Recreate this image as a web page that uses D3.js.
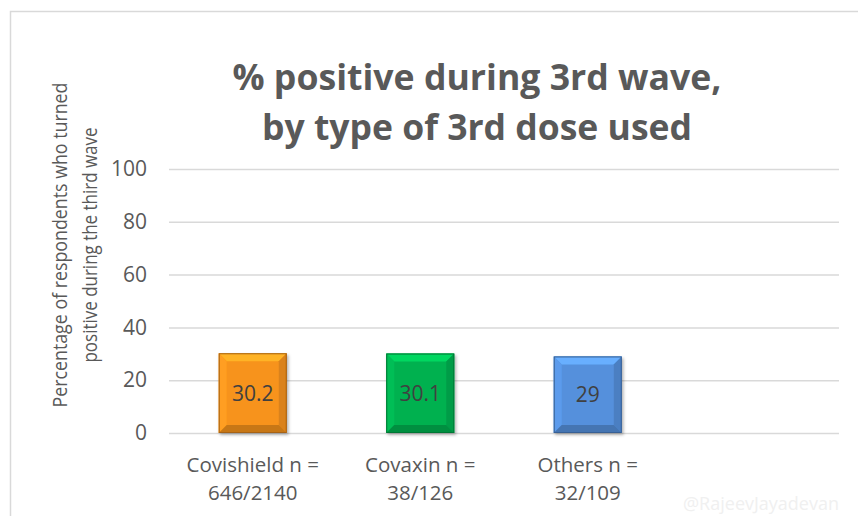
<!DOCTYPE html>
<html>
<head>
<meta charset="utf-8">
<script src="https://cdn.jsdelivr.net/npm/d3@7"></script>
<style>
  body { margin: 0; background: #fff; }
  svg { display: block; font-family: "Open Sans", sans-serif; }
</style>
</head>
<body>
<svg id="chart" width="858" height="516"></svg>
<script>
///////////////////////////////////////////////////////////
// Data
const categories = ["Covishield", "Covaxin", "Others", ""];
const catLine1 = ["Covishield n =", "Covaxin n =", "Others n =", ""];
const catLine2 = ["646/2140", "38/126", "32/109", ""];
const values = [30.2, 30.1, 29];
const valueLabels = ["30.2", "30.1", "29"];
const yTicks = [0, 20, 40, 60, 80, 100];
const barColors = ["#f7931e", "#00b150", "#5590dc"];

///////////////////////////////////////////////////////////
// Layout
const svg = d3.select("#chart");
const plot = { left: 169, right: 839, top: 169, bottom: 433 };

const x = d3.scaleBand()
  .domain(categories)
  .range([plot.left, plot.right])
  .paddingInner(0.594)
  .paddingOuter(0.297);

const y = d3.scaleLinear().domain([0, 100]).range([plot.bottom, plot.top]);

// outer frame
svg.append("rect")
  .attr("x", 10.5).attr("y", 11.5)
  .attr("width", 860).attr("height", 520)
  .attr("fill", "none")
  .attr("stroke", "#d9d9d9")
  .attr("stroke-width", 1.5);

// gridlines + tick labels
const yAxis = d3.axisLeft(y)
  .tickValues(yTicks)
  .tickSize(-(plot.right - plot.left))
  .tickPadding(22);

const gy = svg.append("g")
  .attr("transform", `translate(${plot.left},0)`)
  .call(yAxis);
gy.select(".domain").remove();
gy.selectAll(".tick line").attr("stroke", "#d9d9d9").attr("stroke-width", 1.5);
gy.selectAll(".tick text")
  .attr("fill", "#595959")
  .style("font-size", "21px")
  .style("font-family", "Open Sans, sans-serif");

///////////////////////////////////////////////////////////
// Bevelled bars
const defs = svg.append("defs");
const shadow = defs.append("filter").attr("id", "shadow")
  .attr("x", "-20%").attr("y", "-20%").attr("width", "140%").attr("height", "140%");
shadow.append("feDropShadow")
  .attr("dx", 1.5).attr("dy", 2).attr("stdDeviation", 1.5)
  .attr("flood-color", "#000").attr("flood-opacity", 0.3);

const bev = 8;
const bars = svg.append("g").selectAll("g")
  .data(values)
  .join("g")
  .attr("filter", "url(#shadow)");

bars.each(function (d, i) {
  const g = d3.select(this);
  const x0 = x(categories[i]);
  const x1 = x0 + x.bandwidth();
  const y0 = y(d);
  const y1 = y(0);
  const c = d3.color(barColors[i]);

  g.append("rect")
    .attr("x", x0).attr("y", y0)
    .attr("width", x1 - x0).attr("height", y1 - y0)
    .attr("fill", c);

  const poly = (pts, fill) => g.append("polygon")
    .attr("points", pts.map(p => p.join(",")).join(" "))
    .attr("fill", fill);

  // top, left, right, bottom faces
  poly([[x0, y0], [x1, y0], [x1 - bev, y0 + bev], [x0 + bev, y0 + bev]], c.brighter(0.55));
  poly([[x0, y0], [x0 + bev, y0 + bev], [x0 + bev, y1 - bev], [x0, y1]], c.brighter(0.2));
  poly([[x1, y0], [x1, y1], [x1 - bev, y1 - bev], [x1 - bev, y0 + bev]], c.darker(0.35));
  poly([[x0, y1], [x0 + bev, y1 - bev], [x1 - bev, y1 - bev], [x1, y1]], c.darker(0.6));

  g.append("rect")
    .attr("x", x0 + 0.5).attr("y", y0 + 0.5)
    .attr("width", x1 - x0 - 1).attr("height", y1 - y0 - 1)
    .attr("fill", "none")
    .attr("stroke", c.darker(1.1))
    .attr("stroke-width", 1);
});

// value labels
svg.append("g").selectAll("text")
  .data(values)
  .join("text")
  .attr("x", (d, i) => x(categories[i]) + x.bandwidth() / 2)
  .attr("y", d => (y(d) + y(0)) / 2)
  .attr("dy", "0.36em")
  .attr("text-anchor", "middle")
  .attr("fill", "#404040")
  .style("font-size", "21px")
  .text((d, i) => valueLabels[i]);

///////////////////////////////////////////////////////////
// Category labels
const catG = svg.append("g").selectAll("text")
  .data(categories.filter(c => c))
  .join("text")
  .attr("text-anchor", "middle")
  .attr("fill", "#595959")
  .style("font-size", "20.5px");

catG.append("tspan")
  .attr("x", d => x(d) + x.bandwidth() / 2)
  .attr("y", 472)
  .text((d, i) => catLine1[i]);
catG.append("tspan")
  .attr("x", d => x(d) + x.bandwidth() / 2)
  .attr("y", 500)
  .text((d, i) => catLine2[i]);

///////////////////////////////////////////////////////////
// Titles
svg.append("text")
  .attr("x", 477).attr("y", 90)
  .attr("text-anchor", "middle")
  .attr("fill", "#595959")
  .attr("font-weight", "bold")
  .attr("textLength", 489)
  .attr("lengthAdjust", "spacingAndGlyphs")
  .style("font-size", "36px")
  .text("% positive during 3rd wave,");

svg.append("text")
  .attr("x", 477).attr("y", 140)
  .attr("text-anchor", "middle")
  .attr("fill", "#595959")
  .attr("font-weight", "bold")
  .attr("textLength", 430)
  .attr("lengthAdjust", "spacingAndGlyphs")
  .style("font-size", "36px")
  .text("by type of 3rd dose used");

// y axis title (two lines)
const yTitle = svg.append("g").attr("transform", "translate(0,245) rotate(-90)");
yTitle.append("text")
  .attr("x", 0).attr("y", 67)
  .attr("text-anchor", "middle")
  .attr("fill", "#595959")
  .attr("textLength", 325)
  .attr("lengthAdjust", "spacingAndGlyphs")
  .style("font-size", "20.5px")
  .text("Percentage of respondents who turned");
yTitle.append("text")
  .attr("x", 0).attr("y", 97)
  .attr("text-anchor", "middle")
  .attr("fill", "#595959")
  .attr("textLength", 235)
  .attr("lengthAdjust", "spacingAndGlyphs")
  .style("font-size", "20.5px")
  .text("positive during the third wave");

// watermark
svg.append("text")
  .attr("x", 839).attr("y", 510)
  .attr("text-anchor", "end")
  .attr("fill", "#f0f0f0")
  .style("font-size", "18px")
  .text("@RajeevJayadevan");
</script>
</body>
</html>
